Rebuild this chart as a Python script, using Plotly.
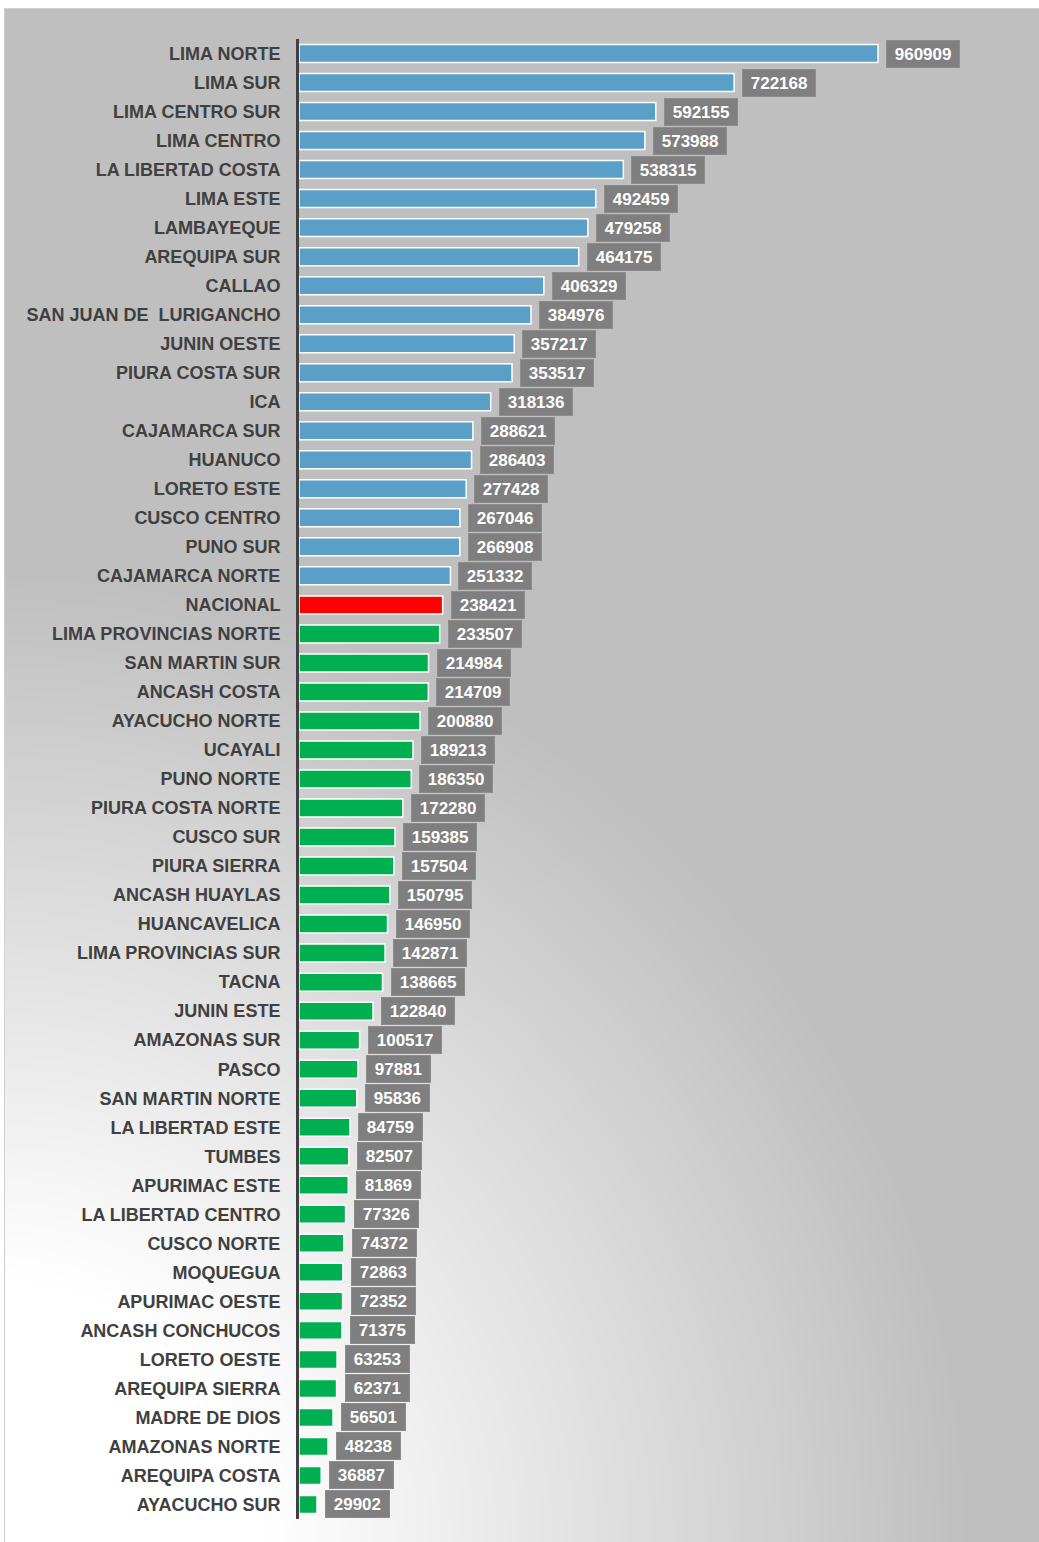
import base64, struct, zlib
import numpy as np
import plotly.graph_objects as go

categories = [
    "LIMA NORTE", "LIMA SUR", "LIMA CENTRO SUR", "LIMA CENTRO", "LA LIBERTAD COSTA",
    "LIMA ESTE", "LAMBAYEQUE", "AREQUIPA SUR", "CALLAO", "SAN JUAN DE  LURIGANCHO",
    "JUNIN OESTE", "PIURA COSTA SUR", "ICA", "CAJAMARCA SUR", "HUANUCO",
    "LORETO ESTE", "CUSCO CENTRO", "PUNO SUR", "CAJAMARCA NORTE", "NACIONAL",
    "LIMA PROVINCIAS NORTE", "SAN MARTIN SUR", "ANCASH COSTA", "AYACUCHO NORTE", "UCAYALI",
    "PUNO NORTE", "PIURA COSTA NORTE", "CUSCO SUR", "PIURA SIERRA", "ANCASH HUAYLAS",
    "HUANCAVELICA", "LIMA PROVINCIAS SUR", "TACNA", "JUNIN ESTE", "AMAZONAS SUR",
    "PASCO", "SAN MARTIN NORTE", "LA LIBERTAD ESTE", "TUMBES", "APURIMAC ESTE",
    "LA LIBERTAD CENTRO", "CUSCO NORTE", "MOQUEGUA", "APURIMAC OESTE", "ANCASH CONCHUCOS",
    "LORETO OESTE", "AREQUIPA SIERRA", "MADRE DE DIOS", "AMAZONAS NORTE", "AREQUIPA COSTA",
    "AYACUCHO SUR",
]
values = [
    960909, 722168, 592155, 573988, 538315,
    492459, 479258, 464175, 406329, 384976,
    357217, 353517, 318136, 288621, 286403,
    277428, 267046, 266908, 251332, 238421,
    233507, 214984, 214709, 200880, 189213,
    186350, 172280, 159385, 157504, 150795,
    146950, 142871, 138665, 122840, 100517,
    97881, 95836, 84759, 82507, 81869,
    77326, 74372, 72863, 72352, 71375,
    63253, 62371, 56501, 48238, 36887,
    29902,
]
reference_category = "NACIONAL"

BLUE, RED, GREEN = "#599fc8", "#ff0000", "#00b050"
ref_value = values[categories.index(reference_category)]
colors = [RED if c == reference_category else (BLUE if v > ref_value else GREEN)
          for c, v in zip(categories, values)]

# ---- background gradient image (radial from bottom-left corner) ----
FIG_W, FIG_H = 1039, 1542
BX0, BY0, BX1, BY1 = 4, 8, 1039, 1542
ML, MR, MT, MB = 299, 0, 39, 23
plot_w = FIG_W - ML - MR
plot_h = FIG_H - MT - MB

gw, gh = 260, 384
xs = BX0 + (np.arange(gw) + 0.5) * (BX1 - BX0) / gw
ys = BY0 + (np.arange(gh) + 0.5) * (BY1 - BY0) / gh
X, Y = np.meshgrid(xs, ys)
d = np.sqrt((X - 0) ** 2 + (Y - 1542) ** 2)
f = np.clip((d - 258) / 712, 0, 1)
img = (255 - 64 * f).round().astype(np.uint8)


def png_bytes(a):
    h, w = a.shape
    raw = b"".join(b"\x00" + a[r].tobytes() for r in range(h))

    def chunk(t, data):
        c = struct.pack(">I", len(data)) + t + data
        return c + struct.pack(">I", zlib.crc32(t + data) & 0xffffffff)

    return (b"\x89PNG\r\n\x1a\n" + chunk(b"IHDR", struct.pack(">IIBBBBB", w, h, 8, 0, 0, 0, 0))
            + chunk(b"IDAT", zlib.compress(raw, 9)) + chunk(b"IEND", b""))


src = "data:image/png;base64," + base64.b64encode(png_bytes(img)).decode()

px_x = lambda p: (p - ML) / plot_w
px_y = lambda p: (FIG_H - MB - p) / plot_h

fig = go.Figure()
fig.add_trace(go.Bar(
    x=values, y=categories, orientation="h",
    marker=dict(color=colors, line=dict(color="white", width=1.5)),
    width=0.62, hoverinfo="x+y",
))

NB = "\u00a0"
for c, v in zip(categories, values):
    fig.add_annotation(
        x=v, y=c, xref="x", yref="y", xanchor="left", yanchor="middle",
        xshift=8, text=f"{NB}{v}{NB}", showarrow=False, height=20, valign="middle",
        font=dict(family="Arial, Liberation Sans, sans-serif", size=17, color="white"),
        bgcolor="#7f7f7f", bordercolor="#8c8c8c", borderwidth=1, borderpad=3,
    )

fig.add_layout_image(dict(
    source=src, xref="paper", yref="paper",
    x=px_x(BX0), y=px_y(BY0), sizex=(BX1 - BX0) / plot_w, sizey=(BY1 - BY0) / plot_h,
    xanchor="left", yanchor="top", sizing="stretch", layer="below",
))
fig.add_shape(type="rect", xref="paper", yref="paper",
              x0=px_x(BX0 + 0.5), x1=px_x(BX1 + 2), y0=px_y(BY1 + 2), y1=px_y(BY0 + 0.5),
              line=dict(color="#d0d0d0", width=1), fillcolor="rgba(0,0,0,0)", layer="below")

xmax = 960909 * plot_w / 579.0
fig.update_layout(
    width=FIG_W, height=FIG_H,
    margin=dict(l=ML, r=MR, t=MT, b=MB, pad=0),
    paper_bgcolor="white", plot_bgcolor="rgba(0,0,0,0)",
    showlegend=False,
    font=dict(family="Arial, Liberation Sans, sans-serif"),
    xaxis=dict(range=[0, xmax], visible=False, showgrid=False, zeroline=False),
    yaxis=dict(
        type="category", categoryorder="array", categoryarray=categories,
        autorange="reversed", showgrid=False, zeroline=False,
        showline=True, linecolor="#404040", linewidth=3,
        ticks="", ticklabelstandoff=12,
        tickfont=dict(family="Arial, Liberation Sans, sans-serif", size=18, color="#404040"),
    ),
)
fig.update_yaxes(tickfont_weight="bold")
fig.update_annotations(font_weight="bold")

fig.write_html("out.html", config={"displayModeBar": False},
               post_script="document.body.style.margin='0';")
